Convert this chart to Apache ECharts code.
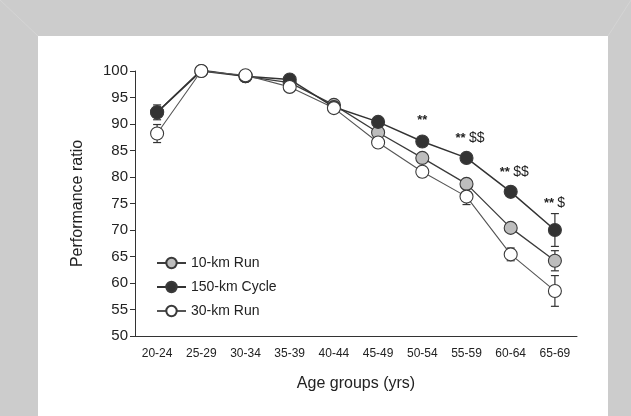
<!DOCTYPE html>
<html>
<head>
<meta charset="utf-8">
<script src="https://cdn.jsdelivr.net/npm/echarts@6/dist/echarts.min.js"></script>
<style>
    html, body { margin: 0; padding: 0; background: #cccccc; }
    #chart { width: 631px; height: 416px; }
</style>
</head>
<body>
<div id="chart"></div>
<script>
// age groups on the x axis
const ageGroups = ['20-24', '25-29', '30-34', '35-39', '40-44', '45-49', '50-54', '55-59', '60-64', '65-69'];

// performance ratio (%)
const run10 = [92.2, 100.2, 99.0, 97.8, 93.6, 88.4, 83.6, 78.7, 70.4, 64.2];
const cycle150 = [92.2, 100.0, 99.0, 98.4, 93.2, 90.4, 86.7, 83.6, 77.2, 70.0];
const run30 = [88.2, 100.0, 99.2, 97.0, 93.0, 86.5, 81.0, 76.3, 65.4, 58.5];

// error bars (+/- SE)
const run10Err = [0.5, 0.3, 0.3, 0.5, 0.6, 0.8, 0.8, 0.9, 0.7, 1.9];
const cycle150Err = [1.4, 0.3, 0.3, 0.5, 0.8, 0.7, 0.8, 0.7, 0.8, 3.1];
const run30Err = [1.7, 0.3, 0.4, 0.8, 0.9, 0.9, 1.0, 1.5, 1.2, 2.9];

// significance marks above the cycle points
const sigStars = ['', '', '', '', '', '', '**', '**', '**', '**'];
const sigDollars = ['', '', '', '', '', '', '', '$$', '$$', '$'];
const sigLevel = [0, 0, 0, 0, 0, 0, 90.6, 87.3, 80.9, 75.1];

const yTicks = {min: 50, max: 100, interval: 5};

const FONT = '"Liberation Sans", Arial, sans-serif';

const chart = echarts.init(document.getElementById('chart'));

function errData(vals, errs) {
    return vals.map((v, i) => [i, v, errs[i]]);
}

function errorBarSeries(vals, errs, color, z) {
    return {
        type: 'custom',
        z: z,
        silent: true,
        data: errData(vals, errs),
        renderItem: function (params, api) {
            let x = api.value(0), v = api.value(1), e = api.value(2);
            let top = api.coord([x, v + e]);
            let bot = api.coord([x, v - e]);
            let w = 4;
            let style = {stroke: color, lineWidth: 1.2};
            return {
                type: 'group',
                children: [
                    {type: 'line', shape: {x1: top[0], y1: top[1], x2: bot[0], y2: bot[1]}, style: style},
                    {type: 'line', shape: {x1: top[0] - w, y1: top[1], x2: top[0] + w, y2: top[1]}, style: style},
                    {type: 'line', shape: {x1: bot[0] - w, y1: bot[1], x2: bot[0] + w, y2: bot[1]}, style: style}
                ]
            };
        }
    };
}

function lineSeries(name, vals, fill, lineColor, lineWidth, z) {
    return {
        name: name,
        type: 'line',
        z: z,
        data: vals,
        symbol: 'circle',
        symbolSize: 13,
        itemStyle: {color: fill, borderColor: '#3a3a3a', borderWidth: 1.1},
        lineStyle: {color: lineColor, width: lineWidth},
        emphasis: {disabled: true}
    };
}

const option = {
    backgroundColor: '#cccccc',
    animation: false,
    textStyle: {fontFamily: FONT},
    graphic: [
        {type: 'rect', z: -10, shape: {x: 38, y: 36, width: 570, height: 380}, style: {fill: '#ffffff'}},
        {type: 'line', z: -10, shape: {x1: 0, y1: 0, x2: 38, y2: 36}, style: {stroke: '#d4d4d4', lineWidth: 1}},
        {type: 'line', z: -10, shape: {x1: 631, y1: 0, x2: 608, y2: 36}, style: {stroke: '#d4d4d4', lineWidth: 1}}
    ],
    grid: {left: 135, right: 54, top: 71, bottom: 80},
    legend: {
        orient: 'vertical',
        left: 151,
        top: 251,
        itemWidth: 29,
        itemHeight: 13,
        itemGap: 10,
        textStyle: {fontSize: 14, color: '#222', fontFamily: FONT},
        data: ['10-km Run', '150-km Cycle', '30-km Run']
    },
    xAxis: {
        type: 'category',
        data: ageGroups,
        boundaryGap: true,
        name: 'Age groups (yrs)',
        nameLocation: 'middle',
        nameGap: 40,
        nameTextStyle: {fontSize: 16, color: '#222', fontFamily: FONT},
        axisLine: {lineStyle: {color: '#333', width: 1}},
        axisTick: {inside: true, length: 4, lineStyle: {color: '#333'}},
        axisLabel: {fontSize: 12, color: '#222', margin: 12, interval: 0, fontFamily: FONT}
    },
    yAxis: {
        type: 'value',
        min: yTicks.min,
        max: yTicks.max,
        interval: yTicks.interval,
        name: 'Performance ratio',
        nameLocation: 'middle',
        nameGap: 49,
        nameTextStyle: {fontSize: 16, color: '#222', fontFamily: FONT},
        axisLine: {show: true, lineStyle: {color: '#333', width: 1}},
        axisTick: {show: true, length: 5, lineStyle: {color: '#333'}},
        axisLabel: {fontSize: 15, color: '#222', margin: 7, fontFamily: FONT},
        splitLine: {show: false}
    },
    series: [
        errorBarSeries(run10, run10Err, '#333', 2),
        errorBarSeries(cycle150, cycle150Err, '#333', 2),
        errorBarSeries(run30, run30Err, '#333', 2),
        lineSeries('10-km Run', run10, '#bdbdbd', '#3c3c3c', 1.3, 3),
        lineSeries('150-km Cycle', cycle150, '#333333', '#333333', 1.5, 4),
        lineSeries('30-km Run', run30, '#ffffff', '#555555', 1.1, 5),
        {
            type: 'custom',
            z: 6,
            silent: true,
            data: sigLevel.map((v, i) => [i, v]),
            renderItem: function (params, api) {
                let i = params.dataIndex;
                if (!sigStars[i]) {
                    return null;
                }
                let p = api.coord([api.value(0), api.value(1)]);
                let hasDollar = sigDollars[i] !== '';
                return {
                    type: 'text',
                    x: hasDollar ? p[0] - 11 : p[0],
                    y: p[1],
                    style: {
                        text: '{s|' + sigStars[i] + '}' + (hasDollar ? ' {d|' + sigDollars[i] + '}' : ''),
                        align: hasDollar ? 'left' : 'center',
                        verticalAlign: 'middle',
                        rich: {
                            s: {fontSize: 13, fontWeight: 'bold', fill: '#222', fontFamily: FONT},
                            d: {fontSize: 14, fill: '#222', fontFamily: FONT}
                        }
                    }
                };
            }
        }
    ]
};

chart.setOption(option);
</script>
</body>
</html>
